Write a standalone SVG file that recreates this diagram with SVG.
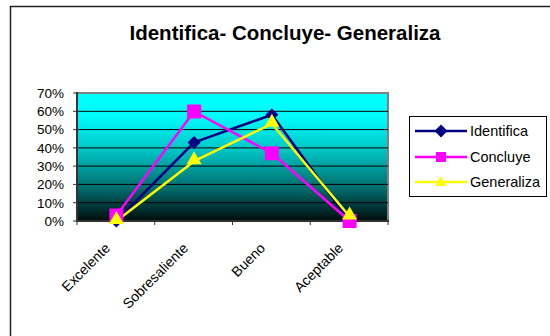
<svg xmlns="http://www.w3.org/2000/svg" width="550" height="336" viewBox="0 0 550 336">
<defs>
<linearGradient id="bg" x1="0" y1="0" x2="0" y2="1">
<stop offset="0" stop-color="#00ffff"/>
<stop offset="0.18" stop-color="#00fcfc"/>
<stop offset="0.45" stop-color="#00c4c4"/>
<stop offset="0.75" stop-color="#006a6a"/>
<stop offset="1" stop-color="#000c0c"/>
</linearGradient>
<style>
text{font-family:"Liberation Sans",Arial,sans-serif;fill:#000}
.t{font-size:20.5px;font-weight:bold;text-anchor:middle}
.ax{font-size:13.5px;text-anchor:end}
.cat{font-size:14px;text-anchor:end}
.lg{font-size:14.5px}
.grid{stroke:#000;stroke-width:1}
.s1{fill:none;stroke:#000080;stroke-width:2.5;stroke-linejoin:round}
.s2{fill:none;stroke:#ff00ff;stroke-width:2.5;stroke-linejoin:round}
.s3{fill:none;stroke:#ffff00;stroke-width:2.5;stroke-linejoin:round}
.m1{fill:#000080}
.m2{fill:#ff00ff}
.m3{fill:#ffff00}
</style>
<path id="dia" d="M0,-6.5 L6.5,0 L0,6.5 L-6.5,0 Z"/>
<rect id="sq" x="-7" y="-7" width="14" height="14"/>
<path id="tri" d="M0,-8 L7.5,5 L-7.5,5 Z"/>
</defs>
<rect x="0" y="0" width="550" height="336" fill="#fff"/>
<path d="M10.5,340 V6.5 H552" fill="none" stroke="#222" stroke-width="1.5"/>
<text class="t" x="285" y="40">Identifica- Concluye- Generaliza</text>

<g id="plot">
<rect x="77" y="93" width="311" height="128" fill="url(#bg)" stroke="#808080" stroke-width="2"/>
<g class="grid">
<line x1="77" y1="111.3" x2="388" y2="111.3"/>
<line x1="77" y1="129.6" x2="388" y2="129.6"/>
<line x1="77" y1="147.9" x2="388" y2="147.9"/>
<line x1="77" y1="166.1" x2="388" y2="166.1"/>
<line x1="77" y1="184.4" x2="388" y2="184.4"/>
<line x1="77" y1="202.7" x2="388" y2="202.7"/>
</g>
<path d="M77,92 V221 H389" fill="none" stroke="#333" stroke-width="2"/>
<path d="M73,93H77M73,111.3H77M73,129.6H77M73,147.9H77M73,166.1H77M73,184.4H77M73,202.7H77M73,221H77M77,221V225M154.75,221V225M232.5,221V225M310.25,221V225M388,221V225" stroke="#333" stroke-width="1"/>
</g>

<g id="yaxis">
<text class="ax" x="64" y="97.8">70%</text>
<text class="ax" x="64" y="116.1">60%</text>
<text class="ax" x="64" y="134.4">50%</text>
<text class="ax" x="64" y="152.7">40%</text>
<text class="ax" x="64" y="170.9">30%</text>
<text class="ax" x="64" y="189.2">20%</text>
<text class="ax" x="64" y="207.5">10%</text>
<text class="ax" x="64" y="225.8">0%</text>
</g>

<g id="xaxis">
<text class="cat" transform="translate(111,249) rotate(-45)">Excelente</text>
<text class="cat" transform="translate(189,249) rotate(-45)">Sobresaliente</text>
<text class="cat" transform="translate(266,249) rotate(-45)">Bueno</text>
<text class="cat" transform="translate(344,249) rotate(-45)">Aceptable</text>
</g>

<g id="connectors">
<polyline class="s1" points="116.4,221 194.1,142.4 271.9,114.8 349.6,221"/>
<polyline class="s2" points="116.4,215.5 194.1,111.5 271.9,153.3 349.6,221"/>
<polyline class="s3" points="116.4,221 194.1,161.2 271.9,123.8 349.6,216.5"/>
</g>

<g id="identifica">
<use href="#dia" class="m1" x="116.4" y="221"/>
<use href="#dia" class="m1" x="194.1" y="142.4"/>
<use href="#dia" class="m1" x="271.9" y="114.8"/>
<use href="#dia" class="m1" x="349.6" y="221"/>
</g>
<g id="concluye">
<use href="#sq" class="m2" x="116.4" y="215.5"/>
<use href="#sq" class="m2" x="194.1" y="111.5"/>
<use href="#sq" class="m2" x="271.9" y="153.3"/>
<use href="#sq" class="m2" x="349.6" y="221"/>
</g>
<g id="generaliza">
<use href="#tri" class="m3" x="116.4" y="219"/>
<use href="#tri" class="m3" x="194.1" y="159.2"/>
<use href="#tri" class="m3" x="271.9" y="121.8"/>
<use href="#tri" class="m3" x="349.6" y="214.5"/>
</g>

<g id="legend">
<rect x="409.5" y="116.5" width="137" height="80" fill="#fff" stroke="#000" stroke-width="1"/>
<line class="s1" x1="415" y1="131" x2="467" y2="131"/>
<use href="#dia" class="m1" x="441" y="131"/>
<text class="lg" x="470" y="136">Identifica</text>
<line class="s2" x1="415" y1="157" x2="467" y2="157"/>
<rect class="m2" x="436" y="152" width="10" height="10"/>
<text class="lg" x="470" y="162">Concluye</text>
<line class="s3" x1="415" y1="182" x2="467" y2="182"/>
<path class="m3" d="M441,176 L446.5,186 L435.5,186 Z"/>
<text class="lg" x="470" y="187">Generaliza</text>
</g>
</svg>
